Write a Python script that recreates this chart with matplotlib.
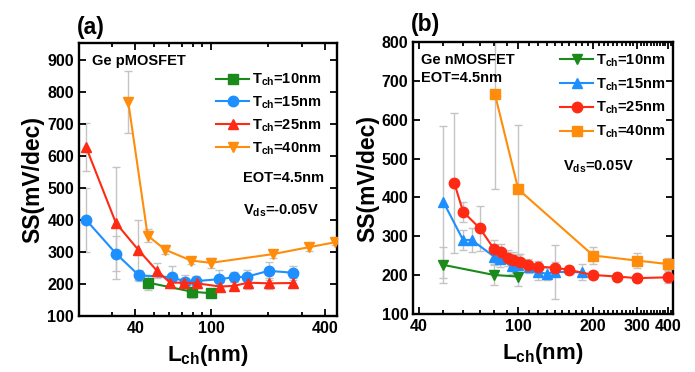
import matplotlib
matplotlib.use("Agg")
import matplotlib.pyplot as plt
from matplotlib.ticker import FixedLocator, NullFormatter, FixedFormatter

plt.rcParams['font.family'] = ['Liberation Sans', 'DejaVu Sans']
plt.rcParams['font.weight'] = 'bold'
plt.rcParams['mathtext.fontset'] = 'custom'
plt.rcParams['mathtext.rm'] = 'Liberation Sans:bold'
plt.rcParams['mathtext.it'] = 'Liberation Sans:bold'
plt.rcParams['mathtext.bf'] = 'Liberation Sans:bold'
plt.rcParams['mathtext.default'] = 'bf'

# (a) Ge pMOSFET
p_green_x = [46.8, 79.1, 100]
p_green_y = [204, 176, 171]
p_green_e = [22, 20, 12]

p_blue_x = [22.0, 31.6, 41.7, 62.5, 73.2, 83.7, 110.6, 132.6, 155.1, 201.1, 270]
p_blue_y = [400, 295, 227, 221, 207, 209, 215, 221, 223, 241, 235]
p_blue_e = [100, 56, 18, 35, 20, 15, 30, 15, 20, 28, 22]

p_red_x = [22.0, 31.6, 41.5, 51.8, 60.9, 72.1, 84.1, 111.5, 132.2, 156, 202, 271]
p_red_y = [627, 390, 306, 242, 204, 204, 202, 192, 194, 204, 202, 203]
p_red_e = [75, 175, 95, 22, 15, 15, 15, 15, 12, 20, 18, 15]

p_orange_x = [36.7, 46.4, 57.3, 78.5, 100, 211, 329, 449]
p_orange_y = [767, 351, 307, 273, 266, 293, 315, 330]
p_orange_e = [97, 20, 15, 12, 15, 12, 12, 8]

# (b) Ge nMOSFET
n_green_x = [50, 80, 100]
n_green_y = [227, 201, 197]
n_green_e = [46, 25, 25]

n_blue_x = [50, 60, 65, 80, 84.4, 94, 100, 110, 120, 130, 140, 180]
n_blue_y = [389, 291, 291, 248, 241, 224, 227, 221, 209, 204, 209, 208]
n_blue_e = [195, 25, 30, 20, 20, 20, 25, 15, 20, 15, 70, 20]

n_red_x = [55.3, 60.1, 70.1, 80.1, 85.2, 90.7, 95.5, 101.6, 109.7, 120.3, 140.4, 159.8, 200, 249.7, 299, 400]
n_red_y = [438, 363, 321, 267, 261, 244, 239, 235, 227, 222, 220, 214, 201, 197, 193, 195]
n_red_e = [180, 25, 58, 25, 20, 20, 20, 20, 15, 15, 15, 10, 10, 10, 10, 15]

n_orange_x = [80.6, 100, 200, 300, 400]
n_orange_y = [665, 421, 251, 238, 229]
n_orange_e = [242, 166, 22, 20, 15]

labels = ['T$_{ch}$=10nm', 'T$_{ch}$=15nm', 'T$_{ch}$=25nm', 'T$_{ch}$=40nm']
c_green = '#1a8a1a'
c_blue = '#1e8fff'
c_red = '#ff2a14'
c_orange = '#ff8c0a'
c_err = '#c4c4c4'


def series(ax, x, y, e, color, marker, label):
    ax.errorbar(x, y, yerr=e, fmt='none', ecolor=c_err, elinewidth=1,
                capsize=3, capthick=1, zorder=1)
    ax.plot(x, y, '-', color=color, marker=marker, ms=7.5, lw=1.5,
            label=label, zorder=3)


def style(ax):
    for s in ax.spines.values():
        s.set_linewidth(1.7)
    ax.tick_params(which='both', direction='in', top=True, right=True,
                   labelsize=11.5, width=1.3)
    ax.tick_params(which='major', length=5)
    ax.tick_params(which='minor', length=3)
    for t in ax.get_xticklabels() + ax.get_yticklabels():
        t.set_fontweight('bold')


fig = plt.figure(figsize=(6.95, 3.72), dpi=100)

ax1 = fig.add_axes([0.1137, 0.1505, 0.3712, 0.734])
series(ax1, p_green_x, p_green_y, p_green_e, c_green, 's', labels[0])
series(ax1, p_blue_x, p_blue_y, p_blue_e, c_blue, 'o', labels[1])
series(ax1, p_red_x, p_red_y, p_red_e, c_red, '^', labels[2])
series(ax1, p_orange_x, p_orange_y, p_orange_e, c_orange, 'v', labels[3])
ax1.set_xscale('log')
ax1.set_xlim(20.2, 460)
ax1.set_ylim(100, 952)
ax1.xaxis.set_major_locator(FixedLocator([40, 100, 400]))
ax1.xaxis.set_major_formatter(FixedFormatter(['40', '100', '400']))
ax1.xaxis.set_minor_locator(FixedLocator([20, 30, 50, 60, 70, 80, 90, 200, 300]))
ax1.xaxis.set_minor_formatter(NullFormatter())
ax1.set_yticks([100, 200, 300, 400, 500, 600, 700, 800, 900])
style(ax1)
ax1.set_xlabel('L$_{ch}$(nm)', fontsize=16, fontweight='bold', labelpad=5)
ax1.set_ylabel('SS(mV/dec)', fontsize=16.5, fontweight='bold', labelpad=2)
ax1.text(0.05, 0.933, 'Ge pMOSFET', transform=ax1.transAxes, fontsize=10.5,
         fontweight='bold', va='center')
ax1.text(0.635, 0.505, 'EOT=4.5nm', transform=ax1.transAxes, fontsize=10.5,
         fontweight='bold', va='center')
ax1.text(0.635, 0.385, 'V$_{ds}$=-0.05V', transform=ax1.transAxes, fontsize=10.5,
         fontweight='bold', va='center')
ax1.legend(loc='upper left', bbox_to_anchor=(0.53, 0.895), frameon=False,
           fontsize=10.5, handlelength=2.3, handletextpad=0.2,
           labelspacing=0.45, borderaxespad=0, borderpad=0)
fig.text(0.131, 0.925, '(a)', fontsize=16.5, fontweight='bold', ha='center', va='center')

ax2 = fig.add_axes([0.5947, 0.155, 0.374, 0.733])
series(ax2, n_green_x, n_green_y, n_green_e, c_green, 'v', labels[0])
series(ax2, n_blue_x, n_blue_y, n_blue_e, c_blue, '^', labels[1])
series(ax2, n_red_x, n_red_y, n_red_e, c_red, 'o', labels[2])
series(ax2, n_orange_x, n_orange_y, n_orange_e, c_orange, 's', labels[3])
ax2.set_xscale('log')
ax2.set_xlim(37.9, 419)
ax2.set_ylim(100, 800)
ax2.xaxis.set_major_locator(FixedLocator([40, 100, 200, 300, 400]))
ax2.xaxis.set_major_formatter(FixedFormatter(['40', '100', '200', '300', '400']))
ax2.xaxis.set_minor_locator(FixedLocator([v for v in range(50, 420, 10) if v not in (100, 200, 300, 400)]))
ax2.xaxis.set_minor_formatter(NullFormatter())
ax2.set_yticks([100, 200, 300, 400, 500, 600, 700, 800])
style(ax2)
ax2.set_xlabel('L$_{ch}$(nm)', fontsize=16, fontweight='bold', labelpad=5)
ax2.set_ylabel('SS(mV/dec)', fontsize=16.5, fontweight='bold', labelpad=2)
ax2.text(0.03, 0.933, 'Ge nMOSFET', transform=ax2.transAxes, fontsize=10.5,
         fontweight='bold', va='center')
ax2.text(0.03, 0.867, 'EOT=4.5nm', transform=ax2.transAxes, fontsize=10.5,
         fontweight='bold', va='center')
ax2.text(0.575, 0.54, 'V$_{ds}$=0.05V', transform=ax2.transAxes, fontsize=10.5,
         fontweight='bold', va='center')
ax2.legend(loc='upper left', bbox_to_anchor=(0.564, 0.96), frameon=False,
           fontsize=10.5, handlelength=2.3, handletextpad=0.2,
           labelspacing=0.5, borderaxespad=0, borderpad=0)
fig.text(0.612, 0.935, '(b)', fontsize=16.5, fontweight='bold', ha='center', va='center')

fig.savefig('out.png', dpi=100)
